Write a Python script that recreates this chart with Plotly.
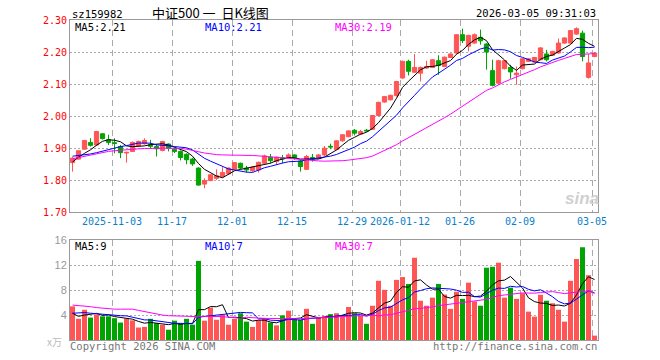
import plotly.graph_objects as go
import pandas as pd

# ---------------- data ----------------
open_ = [1.855,1.866,1.897,1.918,1.910,1.945,1.926,1.917,1.905,1.885,
         1.890,1.907,1.914,1.911,1.905,1.893,1.913,1.897,1.890,1.881,
         1.866,1.838,1.788,1.799,1.806,1.811,1.820,1.834,1.853,1.838,
         1.830,1.832,1.853,1.872,1.858,1.870,1.872,1.879,1.860,1.834,
         1.871,1.869,1.879,1.906,1.896,1.923,1.936,1.956,1.944,1.956,
         1.959,2.002,2.044,2.051,2.064,2.119,2.171,2.137,2.134,2.150,
         2.152,2.173,2.155,2.183,2.197,2.254,2.218,2.228,2.246,2.225,
         2.142,2.103,2.148,2.152,2.129,2.148,2.171,2.169,2.176,2.194,
         2.190,2.197,2.228,2.228,2.256,2.259,2.121,2.186]
high = [1.872,1.893,1.926,1.931,1.954,1.947,1.942,1.931,1.910,1.889,
        1.921,1.924,1.931,1.926,1.912,1.923,1.915,1.900,1.893,1.884,
        1.870,1.840,1.806,1.818,1.834,1.841,1.840,1.857,1.855,1.845,
        1.843,1.858,1.880,1.882,1.874,1.879,1.884,1.881,1.865,1.879,
        1.882,1.882,1.907,1.914,1.925,1.944,1.956,1.960,1.957,1.960,
        2.004,2.045,2.063,2.067,2.110,2.173,2.176,2.194,2.155,2.173,
        2.178,2.190,2.186,2.196,2.256,2.273,2.254,2.258,2.270,2.228,
        2.176,2.176,2.175,2.160,2.155,2.181,2.181,2.185,2.215,2.207,
        2.204,2.242,2.246,2.269,2.277,2.267,2.194,2.200]
low = [1.827,1.864,1.895,1.905,1.907,1.927,1.910,1.884,1.869,1.855,
       1.888,1.905,1.911,1.898,1.874,1.890,1.890,1.885,1.862,1.850,
       1.845,1.783,1.775,1.797,1.801,1.809,1.817,1.832,1.834,1.824,
       1.826,1.824,1.851,1.853,1.848,1.853,1.870,1.864,1.827,1.832,
       1.858,1.867,1.876,1.897,1.894,1.920,1.934,1.940,1.941,1.952,
       1.957,2.000,2.042,2.049,2.061,2.117,2.127,2.135,2.108,2.148,
       2.150,2.129,2.153,2.181,2.195,2.228,2.202,2.226,2.223,2.145,
       2.093,2.098,2.146,2.117,2.098,2.146,2.169,2.167,2.174,2.171,
       2.188,2.195,2.226,2.226,2.254,2.171,2.117,2.184]
close = [1.869,1.892,1.924,1.909,1.952,1.930,1.918,1.915,1.886,1.887,
         1.918,1.921,1.924,1.906,1.898,1.921,1.900,1.890,1.871,1.864,
         1.851,1.785,1.799,1.817,1.814,1.824,1.838,1.855,1.838,1.832,
         1.841,1.856,1.876,1.861,1.872,1.867,1.879,1.869,1.843,1.874,
         1.866,1.879,1.900,1.904,1.923,1.942,1.954,1.947,1.952,1.954,
         2.002,2.043,2.061,2.065,2.108,2.171,2.140,2.152,2.152,2.155,
         2.176,2.158,2.184,2.194,2.254,2.236,2.252,2.254,2.235,2.200,
         2.096,2.173,2.173,2.138,2.134,2.179,2.179,2.183,2.213,2.176,
         2.202,2.228,2.244,2.267,2.273,2.186,2.166,2.197]
volume = [5.4,3.4,4.85,3.6,4.1,3.8,3.8,3.5,2.8,3.45,
          3.15,2.0,2.1,3.4,2.7,2.45,1.65,3.1,2.7,3.4,
          2.45,12.7,3.1,5.2,3.25,4.05,2.45,3.4,4.3,2.95,
          2.1,3.15,3.4,2.8,2.35,3.95,4.7,3.4,3.25,5.0,
          2.6,3.55,3.85,4.15,4.3,3.85,5.3,4.3,3.9,2.6,
          5.5,9.5,8.05,5.5,9.65,10.1,9.0,13.2,6.3,5.5,
          6.8,9.0,7.3,5.0,7.75,6.6,9.2,6.2,5.5,11.6,
          11.75,12.4,6.8,8.4,6.6,7.5,4.55,3.75,7.25,6.3,
          5.9,4.85,2.95,9.5,13.0,14.9,10.4,0.7]

# moving-average values before a full window is available
ma5_head = [1.857, 1.872, 1.884, 1.895]
ma10_head = [1.875, 1.877, 1.879, 1.882, 1.886, 1.891, 1.896, 1.900, 1.905]
ma30_head = [1.867, 1.871, 1.875, 1.879, 1.883, 1.887, 1.890, 1.892, 1.894, 1.896,
             1.897, 1.898, 1.899, 1.900, 1.900, 1.900, 1.900, 1.900, 1.899, 1.897,
             1.894, 1.889, 1.885, 1.882, 1.880, 1.879, 1.879, 1.878, 1.878]
vma5_head = [4.3, 3.8, 4.0, 4.1]
vma10_head = [4.3, 4.35, 4.4, 4.3, 4.2, 4.1, 4.0, 3.95, 3.9]
vma30_head = [5.6, 5.55, 5.45, 5.35, 5.2, 5.1, 5.0, 4.95, 4.95, 4.95,
              4.95, 4.75, 4.55, 4.35, 4.15, 4.0, 3.9, 3.85, 3.8, 3.75,
              3.7, 3.75, 3.8, 3.8, 3.8, 3.75, 3.65, 3.55, 3.5]

tick_labels = ["2025-11-03", "11-17", "12-01", "12-15", "12-29",
               "2026-01-12", "01-26", "02-09", "03-05"]
tick_index = [7, 17, 27, 37, 47, 55, 65, 75, 87]
price_ticks = [1.70, 1.80, 1.90, 2.00, 2.10, 2.20, 2.30]
vol_ticks = [4, 8, 12, 16]
price_legend = ["MA5:2.21", "MA10:2.21", "MA30:2.19"]
vol_legend = ["MA5:9", "MA10:7", "MA30:7"]

# ---------------- styling ----------------
RED = "#FF5555"
GREEN = "#00A400"
MA_COLORS = ["#000000", "#0000FF", "#FF00FF"]
MONO = "DejaVu Sans Mono"

n = len(close)
idx = list(range(n))


def ma(values, w, head):
    s = pd.Series(values).rolling(w).mean().tolist()
    s[:w - 1] = head
    return s


price_mas = [ma(close, 5, ma5_head), ma(close, 10, ma10_head), ma(close, 30, ma30_head)]
vol_mas = [ma(volume, 5, vma5_head), ma(volume, 10, vma10_head), ma(volume, 30, vma30_head)]
bar_colors = [RED if c >= o else GREEN for o, c in zip(open_, close)]

fig = go.Figure()
fig.add_trace(go.Candlestick(
    x=idx, open=open_, high=high, low=low, close=close,
    increasing=dict(line=dict(color=RED, width=1), fillcolor=RED),
    decreasing=dict(line=dict(color=GREEN, width=1), fillcolor=GREEN),
    whiskerwidth=0, xaxis="x", yaxis="y", hoverinfo="skip"))
for m, col in zip(price_mas, MA_COLORS):
    fig.add_trace(go.Scatter(x=idx, y=m, mode="lines", line=dict(color=col, width=1),
                             xaxis="x", yaxis="y", hoverinfo="skip"))
fig.add_trace(go.Bar(x=idx, y=volume, marker=dict(color=bar_colors, line=dict(width=0)),
                     xaxis="x2", yaxis="y2", hoverinfo="skip"))
for m, col in zip(vol_mas, MA_COLORS):
    fig.add_trace(go.Scatter(x=idx, y=m, mode="lines", line=dict(color=col, width=1),
                             xaxis="x2", yaxis="y2", hoverinfo="skip"))

L, R, T, B, W, H = 70, 62, 20, 20, 660, 360
PW, PH = W - L - R, H - T - B


def fx(px):
    return (px - L) / PW


def fy(py):
    return (H - B - py) / PH


off = 0.4167
xr = [-off, n - off]
grid_x = [i - off for i in tick_index]
axis_common = dict(showline=True, mirror=True, linecolor="#999999", linewidth=1,
                   zeroline=False, fixedrange=True)

fig.update_layout(
    width=W, height=H, margin=dict(l=L, r=R, t=T, b=B),
    paper_bgcolor="white", plot_bgcolor="white", showlegend=False,
    boxgap=0.0, boxgroupgap=0.3, bargap=0.17,
    xaxis=dict(domain=[0, 1], anchor="y", range=xr, tickmode="array",
               tickvals=grid_x, ticktext=tick_labels, ticks="",
               tickfont=dict(family=MONO, size=10, color="#0A7FCC"),
               showgrid=True, gridcolor="#AAAAAA", griddash="6px,4px", gridwidth=1,
               rangeslider=dict(visible=False), **axis_common),
    yaxis=dict(domain=[fy(212.3), 1], anchor="x", range=[1.70, 2.30], tickmode="array",
               tickvals=price_ticks, ticktext=["%.2f" % v for v in price_ticks], ticks="",
               tickfont=dict(family=MONO, size=10, color="#FF0000"),
               showgrid=True, gridcolor="#AAAAAA", griddash="2px,2px", gridwidth=1,
               **axis_common),
    xaxis2=dict(domain=[0, 1], anchor="y2", range=xr, tickmode="array",
                tickvals=grid_x, showticklabels=False, ticks="",
                showgrid=True, gridcolor="#AAAAAA", griddash="6px,4px", gridwidth=1,
                **axis_common),
    yaxis2=dict(domain=[0, fy(240.3)], anchor="x2", range=[0, 16], tickmode="array",
                tickvals=vol_ticks, ticktext=[str(v) for v in vol_ticks], ticks="",
                tickfont=dict(family="Liberation Sans", size=11, color="#999999"),
                showgrid=True, gridcolor="#AAAAAA", griddash="2px,2px", gridwidth=1,
                **axis_common),
)

ann = []


def text(px, py, s, color="#000000", size=10, family=MONO, anchor="left", **kw):
    ann.append(dict(x=fx(px), y=fy(py), xref="paper", yref="paper", text=s,
                    showarrow=False, xanchor=anchor, yanchor="middle",
                    font=dict(family=family, size=size, color=color), **kw))


text(70, 13.5, "sz159982", size=10.5)
text(150, 12, "中证500\u00a0一\u00a0\u00a0日K线图", size=13, family="Noto Sans CJK SC")
text(598, 13, "2026-03-05 09:31:03", size=10.5, anchor="right")
for s, px, col in zip(price_legend, [73, 203, 333], MA_COLORS):
    text(px, 27, s, color=col, size=10.5)
for s, px, col in zip(vol_legend, [73, 203, 333], MA_COLORS):
    text(px, 246, s, color=col, size=10.5)
text(68, 346, "Copyright 2026 SINA.COM", color="#777777", size=10.5)
text(599, 346, "http://finance.sina.com.cn", color="#777777", size=10.5, anchor="right")
text(64, 341, "x万", color="#BBBBBB", size=10, family="Noto Sans CJK SC", anchor="right")
text(582, 198, "<i><b>sina</b></i>", color="#D0D0D0", size=17, family="Liberation Sans", anchor="center")
fig.update_layout(annotations=ann)

fig.write_html("out.html", config={"displayModeBar": False},
               post_script="document.body.style.margin='0px';")
